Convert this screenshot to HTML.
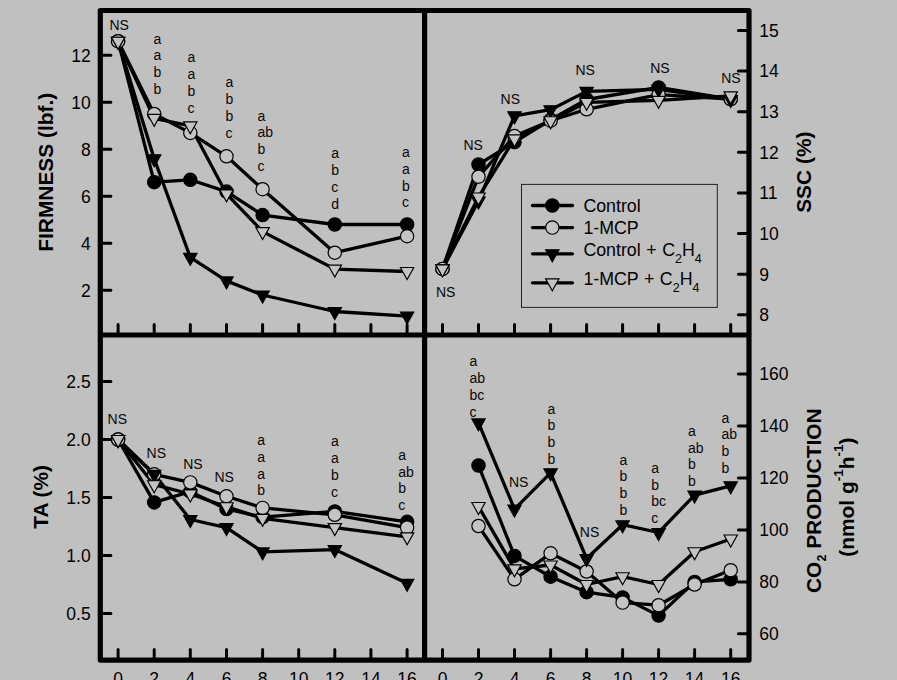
<!DOCTYPE html>
<html><head><meta charset="utf-8"><title>chart</title>
<style>
html,body{margin:0;padding:0;background:#c0c0c0;}
body{width:897px;height:680px;overflow:hidden;}
svg{display:block;}
text{font-family:"Liberation Sans", sans-serif;fill:#000;}
.tk{font-size:17.5px;}
.an{font-size:14px;fill:#0c0606;}
.ti{font-size:20.9px;font-weight:bold;}
.lg{font-size:17.8px;word-spacing:0.6px;}
</style></head><body>
<svg width="897" height="680" viewBox="0 0 897 680">
<rect x="0" y="0" width="897" height="680" fill="#c0c0c0"/>
<g id="pA"><polyline fill="none" stroke="#000" stroke-width="3.3" stroke-linejoin="round" points="118.1,41.2 154.2,182.2 190.3,179.8 226.5,191.6 262.6,215.1 334.8,224.5 407.1,224.5"/>
<polyline fill="none" stroke="#000" stroke-width="3.3" stroke-linejoin="round" points="118.1,41.2 154.2,114.0 190.3,132.9 226.5,156.3 262.6,189.2 334.8,252.7 407.1,236.2"/>
<polyline fill="none" stroke="#000" stroke-width="3.3" stroke-linejoin="round" points="118.1,41.2 154.2,158.7 190.3,257.4 226.5,280.9 262.6,295.0 334.8,311.5 407.1,316.1"/>
<polyline fill="none" stroke="#000" stroke-width="3.3" stroke-linejoin="round" points="118.1,41.2 154.2,118.3 190.3,125.8 226.5,193.9 262.6,231.6 334.8,269.1 407.1,271.5"/>
<circle cx="118.1" cy="41.2" r="6.65" fill="#000" stroke="#000" stroke-width="1.2"/>
<circle cx="154.2" cy="182.2" r="6.65" fill="#000" stroke="#000" stroke-width="1.2"/>
<circle cx="190.3" cy="179.8" r="6.65" fill="#000" stroke="#000" stroke-width="1.2"/>
<circle cx="226.5" cy="191.6" r="6.65" fill="#000" stroke="#000" stroke-width="1.2"/>
<circle cx="262.6" cy="215.1" r="6.65" fill="#000" stroke="#000" stroke-width="1.2"/>
<circle cx="334.8" cy="224.5" r="6.65" fill="#000" stroke="#000" stroke-width="1.2"/>
<circle cx="407.1" cy="224.5" r="6.65" fill="#000" stroke="#000" stroke-width="1.2"/>
<circle cx="118.1" cy="41.2" r="6.65" fill="#c4c4c4" stroke="#000" stroke-width="1.2"/>
<circle cx="154.2" cy="114.0" r="6.65" fill="#c4c4c4" stroke="#000" stroke-width="1.2"/>
<circle cx="190.3" cy="132.9" r="6.65" fill="#c4c4c4" stroke="#000" stroke-width="1.2"/>
<circle cx="226.5" cy="156.3" r="6.65" fill="#c4c4c4" stroke="#000" stroke-width="1.2"/>
<circle cx="262.6" cy="189.2" r="6.65" fill="#c4c4c4" stroke="#000" stroke-width="1.2"/>
<circle cx="334.8" cy="252.7" r="6.65" fill="#c4c4c4" stroke="#000" stroke-width="1.2"/>
<circle cx="407.1" cy="236.2" r="6.65" fill="#c4c4c4" stroke="#000" stroke-width="1.2"/>
<path d="M111.4 37.2H124.8L118.1 49.2Z" fill="#000" stroke="#000" stroke-width="1.15" stroke-linejoin="miter"/>
<path d="M147.5 154.7H160.9L154.2 166.7Z" fill="#000" stroke="#000" stroke-width="1.15" stroke-linejoin="miter"/>
<path d="M183.6 253.4H197.0L190.3 265.4Z" fill="#000" stroke="#000" stroke-width="1.15" stroke-linejoin="miter"/>
<path d="M219.8 276.9H233.2L226.5 288.9Z" fill="#000" stroke="#000" stroke-width="1.15" stroke-linejoin="miter"/>
<path d="M255.9 291.0H269.3L262.6 303.0Z" fill="#000" stroke="#000" stroke-width="1.15" stroke-linejoin="miter"/>
<path d="M328.1 307.5H341.5L334.8 319.5Z" fill="#000" stroke="#000" stroke-width="1.15" stroke-linejoin="miter"/>
<path d="M400.4 312.1H413.8L407.1 324.1Z" fill="#000" stroke="#000" stroke-width="1.15" stroke-linejoin="miter"/>
<path d="M111.4 37.2H124.8L118.1 49.2Z" fill="#c4c4c4" stroke="#000" stroke-width="1.15" stroke-linejoin="miter"/>
<path d="M147.5 114.3H160.9L154.2 126.3Z" fill="#c4c4c4" stroke="#000" stroke-width="1.15" stroke-linejoin="miter"/>
<path d="M183.6 121.8H197.0L190.3 133.8Z" fill="#c4c4c4" stroke="#000" stroke-width="1.15" stroke-linejoin="miter"/>
<path d="M219.8 189.9H233.2L226.5 201.9Z" fill="#c4c4c4" stroke="#000" stroke-width="1.15" stroke-linejoin="miter"/>
<path d="M255.9 227.6H269.3L262.6 239.6Z" fill="#c4c4c4" stroke="#000" stroke-width="1.15" stroke-linejoin="miter"/>
<path d="M328.1 265.1H341.5L334.8 277.1Z" fill="#c4c4c4" stroke="#000" stroke-width="1.15" stroke-linejoin="miter"/>
<path d="M400.4 267.5H413.8L407.1 279.5Z" fill="#c4c4c4" stroke="#000" stroke-width="1.15" stroke-linejoin="miter"/></g>
<g id="pB"><polyline fill="none" stroke="#000" stroke-width="3.3" stroke-linejoin="round" points="442.5,268.9 478.5,164.5 514.5,142.2 550.6,119.8 586.6,99.5 658.6,87.4 730.7,99.1"/>
<polyline fill="none" stroke="#000" stroke-width="3.3" stroke-linejoin="round" points="442.5,268.9 478.5,176.7 514.5,136.1 550.6,120.7 586.6,109.3 658.6,94.7 730.7,99.1"/>
<polyline fill="none" stroke="#000" stroke-width="3.3" stroke-linejoin="round" points="442.5,268.9 478.5,201.1 514.5,115.8 550.6,109.7 586.6,91.4 658.6,89.4 730.7,99.5"/>
<polyline fill="none" stroke="#000" stroke-width="3.3" stroke-linejoin="round" points="442.5,268.9 478.5,197.0 514.5,138.9 550.6,120.7 586.6,102.4 658.6,100.3 730.7,95.9"/>
<circle cx="442.5" cy="268.9" r="6.65" fill="#000" stroke="#000" stroke-width="1.2"/>
<circle cx="478.5" cy="164.5" r="6.65" fill="#000" stroke="#000" stroke-width="1.2"/>
<circle cx="514.5" cy="142.2" r="6.65" fill="#000" stroke="#000" stroke-width="1.2"/>
<circle cx="550.6" cy="119.8" r="6.65" fill="#000" stroke="#000" stroke-width="1.2"/>
<circle cx="586.6" cy="99.5" r="6.65" fill="#000" stroke="#000" stroke-width="1.2"/>
<circle cx="658.6" cy="87.4" r="6.65" fill="#000" stroke="#000" stroke-width="1.2"/>
<circle cx="730.7" cy="99.1" r="6.65" fill="#000" stroke="#000" stroke-width="1.2"/>
<circle cx="442.5" cy="268.9" r="6.65" fill="#c4c4c4" stroke="#000" stroke-width="1.2"/>
<circle cx="478.5" cy="176.7" r="6.65" fill="#c4c4c4" stroke="#000" stroke-width="1.2"/>
<circle cx="514.5" cy="136.1" r="6.65" fill="#c4c4c4" stroke="#000" stroke-width="1.2"/>
<circle cx="550.6" cy="120.7" r="6.65" fill="#c4c4c4" stroke="#000" stroke-width="1.2"/>
<circle cx="586.6" cy="109.3" r="6.65" fill="#c4c4c4" stroke="#000" stroke-width="1.2"/>
<circle cx="658.6" cy="94.7" r="6.65" fill="#c4c4c4" stroke="#000" stroke-width="1.2"/>
<circle cx="730.7" cy="99.1" r="6.65" fill="#c4c4c4" stroke="#000" stroke-width="1.2"/>
<path d="M435.8 264.9H449.2L442.5 276.9Z" fill="#000" stroke="#000" stroke-width="1.15" stroke-linejoin="miter"/>
<path d="M471.8 197.1H485.2L478.5 209.1Z" fill="#000" stroke="#000" stroke-width="1.15" stroke-linejoin="miter"/>
<path d="M507.8 111.8H521.2L514.5 123.8Z" fill="#000" stroke="#000" stroke-width="1.15" stroke-linejoin="miter"/>
<path d="M543.9 105.7H557.3L550.6 117.7Z" fill="#000" stroke="#000" stroke-width="1.15" stroke-linejoin="miter"/>
<path d="M579.9 87.4H593.3L586.6 99.4Z" fill="#000" stroke="#000" stroke-width="1.15" stroke-linejoin="miter"/>
<path d="M651.9 85.4H665.3L658.6 97.4Z" fill="#000" stroke="#000" stroke-width="1.15" stroke-linejoin="miter"/>
<path d="M724.0 95.5H737.4L730.7 107.5Z" fill="#000" stroke="#000" stroke-width="1.15" stroke-linejoin="miter"/>
<path d="M435.8 264.9H449.2L442.5 276.9Z" fill="#c4c4c4" stroke="#000" stroke-width="1.15" stroke-linejoin="miter"/>
<path d="M471.8 193.0H485.2L478.5 205.0Z" fill="#c4c4c4" stroke="#000" stroke-width="1.15" stroke-linejoin="miter"/>
<path d="M507.8 134.9H521.2L514.5 146.9Z" fill="#c4c4c4" stroke="#000" stroke-width="1.15" stroke-linejoin="miter"/>
<path d="M543.9 116.7H557.3L550.6 128.7Z" fill="#c4c4c4" stroke="#000" stroke-width="1.15" stroke-linejoin="miter"/>
<path d="M579.9 98.4H593.3L586.6 110.4Z" fill="#c4c4c4" stroke="#000" stroke-width="1.15" stroke-linejoin="miter"/>
<path d="M651.9 96.3H665.3L658.6 108.3Z" fill="#c4c4c4" stroke="#000" stroke-width="1.15" stroke-linejoin="miter"/>
<path d="M724.0 91.9H737.4L730.7 103.9Z" fill="#c4c4c4" stroke="#000" stroke-width="1.15" stroke-linejoin="miter"/></g>
<g id="pC"><polyline fill="none" stroke="#000" stroke-width="3.3" stroke-linejoin="round" points="118.1,439.5 154.2,502.4 190.3,491.7 226.5,509.0 262.6,517.2 334.8,511.4 407.1,521.8"/>
<polyline fill="none" stroke="#000" stroke-width="3.3" stroke-linejoin="round" points="118.1,439.5 154.2,474.3 190.3,482.4 226.5,496.3 262.6,507.9 334.8,514.8 407.1,527.6"/>
<polyline fill="none" stroke="#000" stroke-width="3.3" stroke-linejoin="round" points="118.1,439.5 154.2,474.3 190.3,519.5 226.5,527.6 262.6,551.9 334.8,549.6 407.1,583.3"/>
<polyline fill="none" stroke="#000" stroke-width="3.3" stroke-linejoin="round" points="118.1,439.5 154.2,484.7 190.3,494.0 226.5,506.7 262.6,518.3 334.8,527.6 407.1,536.9"/>
<circle cx="118.1" cy="439.5" r="6.65" fill="#000" stroke="#000" stroke-width="1.2"/>
<circle cx="154.2" cy="502.4" r="6.65" fill="#000" stroke="#000" stroke-width="1.2"/>
<circle cx="190.3" cy="491.7" r="6.65" fill="#000" stroke="#000" stroke-width="1.2"/>
<circle cx="226.5" cy="509.0" r="6.65" fill="#000" stroke="#000" stroke-width="1.2"/>
<circle cx="262.6" cy="517.2" r="6.65" fill="#000" stroke="#000" stroke-width="1.2"/>
<circle cx="334.8" cy="511.4" r="6.65" fill="#000" stroke="#000" stroke-width="1.2"/>
<circle cx="407.1" cy="521.8" r="6.65" fill="#000" stroke="#000" stroke-width="1.2"/>
<circle cx="118.1" cy="439.5" r="6.65" fill="#c4c4c4" stroke="#000" stroke-width="1.2"/>
<circle cx="154.2" cy="474.3" r="6.65" fill="#c4c4c4" stroke="#000" stroke-width="1.2"/>
<circle cx="190.3" cy="482.4" r="6.65" fill="#c4c4c4" stroke="#000" stroke-width="1.2"/>
<circle cx="226.5" cy="496.3" r="6.65" fill="#c4c4c4" stroke="#000" stroke-width="1.2"/>
<circle cx="262.6" cy="507.9" r="6.65" fill="#c4c4c4" stroke="#000" stroke-width="1.2"/>
<circle cx="334.8" cy="514.8" r="6.65" fill="#c4c4c4" stroke="#000" stroke-width="1.2"/>
<circle cx="407.1" cy="527.6" r="6.65" fill="#c4c4c4" stroke="#000" stroke-width="1.2"/>
<path d="M111.4 435.5H124.8L118.1 447.5Z" fill="#000" stroke="#000" stroke-width="1.15" stroke-linejoin="miter"/>
<path d="M147.5 470.3H160.9L154.2 482.3Z" fill="#000" stroke="#000" stroke-width="1.15" stroke-linejoin="miter"/>
<path d="M183.6 515.5H197.0L190.3 527.5Z" fill="#000" stroke="#000" stroke-width="1.15" stroke-linejoin="miter"/>
<path d="M219.8 523.6H233.2L226.5 535.6Z" fill="#000" stroke="#000" stroke-width="1.15" stroke-linejoin="miter"/>
<path d="M255.9 547.9H269.3L262.6 559.9Z" fill="#000" stroke="#000" stroke-width="1.15" stroke-linejoin="miter"/>
<path d="M328.1 545.6H341.5L334.8 557.6Z" fill="#000" stroke="#000" stroke-width="1.15" stroke-linejoin="miter"/>
<path d="M400.4 579.3H413.8L407.1 591.3Z" fill="#000" stroke="#000" stroke-width="1.15" stroke-linejoin="miter"/>
<path d="M111.4 435.5H124.8L118.1 447.5Z" fill="#c4c4c4" stroke="#000" stroke-width="1.15" stroke-linejoin="miter"/>
<path d="M147.5 480.7H160.9L154.2 492.7Z" fill="#c4c4c4" stroke="#000" stroke-width="1.15" stroke-linejoin="miter"/>
<path d="M183.6 490.0H197.0L190.3 502.0Z" fill="#c4c4c4" stroke="#000" stroke-width="1.15" stroke-linejoin="miter"/>
<path d="M219.8 502.7H233.2L226.5 514.7Z" fill="#c4c4c4" stroke="#000" stroke-width="1.15" stroke-linejoin="miter"/>
<path d="M255.9 514.3H269.3L262.6 526.3Z" fill="#c4c4c4" stroke="#000" stroke-width="1.15" stroke-linejoin="miter"/>
<path d="M328.1 523.6H341.5L334.8 535.6Z" fill="#c4c4c4" stroke="#000" stroke-width="1.15" stroke-linejoin="miter"/>
<path d="M400.4 532.9H413.8L407.1 544.9Z" fill="#c4c4c4" stroke="#000" stroke-width="1.15" stroke-linejoin="miter"/></g>
<g id="pD"><polyline fill="none" stroke="#000" stroke-width="3.3" stroke-linejoin="round" points="478.5,465.5 514.5,555.9 550.6,576.7 586.6,592.2 622.6,597.4 658.6,615.6 694.6,581.9 730.7,579.3"/>
<polyline fill="none" stroke="#000" stroke-width="3.3" stroke-linejoin="round" points="478.5,526.0 514.5,579.3 550.6,553.3 586.6,571.5 622.6,602.6 658.6,605.2 694.6,584.5 730.7,570.2"/>
<polyline fill="none" stroke="#000" stroke-width="3.3" stroke-linejoin="round" points="478.5,422.9 514.5,509.1 550.6,472.8 586.6,558.5 622.6,524.7 658.6,532.5 694.6,495.1 730.7,485.8"/>
<polyline fill="none" stroke="#000" stroke-width="3.3" stroke-linejoin="round" points="478.5,506.5 514.5,568.9 550.6,565.0 586.6,584.5 622.6,576.7 658.6,584.5 694.6,551.7 730.7,539.0"/>
<circle cx="478.5" cy="465.5" r="6.65" fill="#000" stroke="#000" stroke-width="1.2"/>
<circle cx="514.5" cy="555.9" r="6.65" fill="#000" stroke="#000" stroke-width="1.2"/>
<circle cx="550.6" cy="576.7" r="6.65" fill="#000" stroke="#000" stroke-width="1.2"/>
<circle cx="586.6" cy="592.2" r="6.65" fill="#000" stroke="#000" stroke-width="1.2"/>
<circle cx="622.6" cy="597.4" r="6.65" fill="#000" stroke="#000" stroke-width="1.2"/>
<circle cx="658.6" cy="615.6" r="6.65" fill="#000" stroke="#000" stroke-width="1.2"/>
<circle cx="694.6" cy="581.9" r="6.65" fill="#000" stroke="#000" stroke-width="1.2"/>
<circle cx="730.7" cy="579.3" r="6.65" fill="#000" stroke="#000" stroke-width="1.2"/>
<circle cx="478.5" cy="526.0" r="6.65" fill="#c4c4c4" stroke="#000" stroke-width="1.2"/>
<circle cx="514.5" cy="579.3" r="6.65" fill="#c4c4c4" stroke="#000" stroke-width="1.2"/>
<circle cx="550.6" cy="553.3" r="6.65" fill="#c4c4c4" stroke="#000" stroke-width="1.2"/>
<circle cx="586.6" cy="571.5" r="6.65" fill="#c4c4c4" stroke="#000" stroke-width="1.2"/>
<circle cx="622.6" cy="602.6" r="6.65" fill="#c4c4c4" stroke="#000" stroke-width="1.2"/>
<circle cx="658.6" cy="605.2" r="6.65" fill="#c4c4c4" stroke="#000" stroke-width="1.2"/>
<circle cx="694.6" cy="584.5" r="6.65" fill="#c4c4c4" stroke="#000" stroke-width="1.2"/>
<circle cx="730.7" cy="570.2" r="6.65" fill="#c4c4c4" stroke="#000" stroke-width="1.2"/>
<path d="M471.8 418.9H485.2L478.5 430.9Z" fill="#000" stroke="#000" stroke-width="1.15" stroke-linejoin="miter"/>
<path d="M507.8 505.1H521.2L514.5 517.1Z" fill="#000" stroke="#000" stroke-width="1.15" stroke-linejoin="miter"/>
<path d="M543.9 468.8H557.3L550.6 480.8Z" fill="#000" stroke="#000" stroke-width="1.15" stroke-linejoin="miter"/>
<path d="M579.9 554.5H593.3L586.6 566.5Z" fill="#000" stroke="#000" stroke-width="1.15" stroke-linejoin="miter"/>
<path d="M615.9 520.7H629.3L622.6 532.7Z" fill="#000" stroke="#000" stroke-width="1.15" stroke-linejoin="miter"/>
<path d="M651.9 528.5H665.3L658.6 540.5Z" fill="#000" stroke="#000" stroke-width="1.15" stroke-linejoin="miter"/>
<path d="M687.9 491.1H701.3L694.6 503.1Z" fill="#000" stroke="#000" stroke-width="1.15" stroke-linejoin="miter"/>
<path d="M724.0 481.8H737.4L730.7 493.8Z" fill="#000" stroke="#000" stroke-width="1.15" stroke-linejoin="miter"/>
<path d="M471.8 502.5H485.2L478.5 514.5Z" fill="#c4c4c4" stroke="#000" stroke-width="1.15" stroke-linejoin="miter"/>
<path d="M507.8 564.9H521.2L514.5 576.9Z" fill="#c4c4c4" stroke="#000" stroke-width="1.15" stroke-linejoin="miter"/>
<path d="M543.9 561.0H557.3L550.6 573.0Z" fill="#c4c4c4" stroke="#000" stroke-width="1.15" stroke-linejoin="miter"/>
<path d="M579.9 580.5H593.3L586.6 592.5Z" fill="#c4c4c4" stroke="#000" stroke-width="1.15" stroke-linejoin="miter"/>
<path d="M615.9 572.7H629.3L622.6 584.7Z" fill="#c4c4c4" stroke="#000" stroke-width="1.15" stroke-linejoin="miter"/>
<path d="M651.9 580.5H665.3L658.6 592.5Z" fill="#c4c4c4" stroke="#000" stroke-width="1.15" stroke-linejoin="miter"/>
<path d="M687.9 547.7H701.3L694.6 559.7Z" fill="#c4c4c4" stroke="#000" stroke-width="1.15" stroke-linejoin="miter"/>
<path d="M724.0 535.0H737.4L730.7 547.0Z" fill="#c4c4c4" stroke="#000" stroke-width="1.15" stroke-linejoin="miter"/></g>
<g fill="none" stroke="#000" stroke-width="5.2" stroke-linejoin="round">
<rect x="100.3" y="10.5" width="648.7" height="649.6"/>
<path d="M424.6 10.5V660.1M100.3 335.0H749.0"/>
</g>
<path d="M101.89999999999999 290.3h9.0M101.89999999999999 243.3h9.0M101.89999999999999 196.3h9.0M101.89999999999999 149.3h9.0M101.89999999999999 102.3h9.0M101.89999999999999 55.3h9.0M101.89999999999999 613.4h9.0M101.89999999999999 555.4h9.0M101.89999999999999 497.4h9.0M101.89999999999999 439.5h9.0M101.89999999999999 381.5h9.0M747.4 314.8h-9.0M747.4 274.2h-9.0M747.4 233.6h-9.0M747.4 192.9h-9.0M747.4 152.3h-9.0M747.4 111.7h-9.0M747.4 71.1h-9.0M747.4 30.5h-9.0M747.4 633.8h-9.0M747.4 581.9h-9.0M747.4 529.9h-9.0M747.4 478.0h-9.0M747.4 426.0h-9.0M747.4 374.1h-9.0M118.1 333.4v-9.0M442.5 333.4v-9.0M118.1 658.5v-9.0M442.5 658.5v-9.0M154.2 333.4v-9.0M478.5 333.4v-9.0M154.2 658.5v-9.0M478.5 658.5v-9.0M190.3 333.4v-9.0M514.5 333.4v-9.0M190.3 658.5v-9.0M514.5 658.5v-9.0M226.5 333.4v-9.0M550.6 333.4v-9.0M226.5 658.5v-9.0M550.6 658.5v-9.0M262.6 333.4v-9.0M586.6 333.4v-9.0M262.6 658.5v-9.0M586.6 658.5v-9.0M298.7 333.4v-9.0M622.6 333.4v-9.0M298.7 658.5v-9.0M622.6 658.5v-9.0M334.8 333.4v-9.0M658.6 333.4v-9.0M334.8 658.5v-9.0M658.6 658.5v-9.0M370.9 333.4v-9.0M694.6 333.4v-9.0M370.9 658.5v-9.0M694.6 658.5v-9.0M407.1 333.4v-9.0M730.7 333.4v-9.0M407.1 658.5v-9.0M730.7 658.5v-9.0" fill="none" stroke="#000" stroke-width="3.0" stroke-linecap="round"/>
<text class="tk" x="90.7" y="296.6" text-anchor="end">2</text>
<text class="tk" x="90.7" y="249.6" text-anchor="end">4</text>
<text class="tk" x="90.7" y="202.6" text-anchor="end">6</text>
<text class="tk" x="90.7" y="155.6" text-anchor="end">8</text>
<text class="tk" x="90.7" y="108.6" text-anchor="end">10</text>
<text class="tk" x="90.7" y="61.6" text-anchor="end">12</text>
<text class="tk" x="90.7" y="619.7" text-anchor="end">0.5</text>
<text class="tk" x="90.7" y="561.7" text-anchor="end">1.0</text>
<text class="tk" x="90.7" y="503.8" text-anchor="end">1.5</text>
<text class="tk" x="90.7" y="445.8" text-anchor="end">2.0</text>
<text class="tk" x="90.7" y="387.8" text-anchor="end">2.5</text>
<text class="tk" x="759.3" y="321.1">8</text>
<text class="tk" x="759.3" y="280.5">9</text>
<text class="tk" x="759.3" y="239.9">10</text>
<text class="tk" x="759.3" y="199.2">11</text>
<text class="tk" x="759.3" y="158.6">12</text>
<text class="tk" x="759.3" y="118.0">13</text>
<text class="tk" x="759.3" y="77.4">14</text>
<text class="tk" x="759.3" y="36.8">15</text>
<text class="tk" x="759.3" y="640.1">60</text>
<text class="tk" x="759.3" y="588.2">80</text>
<text class="tk" x="759.3" y="536.2">100</text>
<text class="tk" x="759.3" y="484.3">120</text>
<text class="tk" x="759.3" y="432.3">140</text>
<text class="tk" x="759.3" y="380.4">160</text>
<text class="tk" x="118.1" y="684.6" text-anchor="middle">0</text>
<text class="tk" x="442.5" y="684.6" text-anchor="middle">0</text>
<text class="tk" x="154.2" y="684.6" text-anchor="middle">2</text>
<text class="tk" x="478.5" y="684.6" text-anchor="middle">2</text>
<text class="tk" x="190.3" y="684.6" text-anchor="middle">4</text>
<text class="tk" x="514.5" y="684.6" text-anchor="middle">4</text>
<text class="tk" x="226.5" y="684.6" text-anchor="middle">6</text>
<text class="tk" x="550.6" y="684.6" text-anchor="middle">6</text>
<text class="tk" x="262.6" y="684.6" text-anchor="middle">8</text>
<text class="tk" x="586.6" y="684.6" text-anchor="middle">8</text>
<text class="tk" x="298.7" y="684.6" text-anchor="middle">10</text>
<text class="tk" x="622.6" y="684.6" text-anchor="middle">10</text>
<text class="tk" x="334.8" y="684.6" text-anchor="middle">12</text>
<text class="tk" x="658.6" y="684.6" text-anchor="middle">12</text>
<text class="tk" x="370.9" y="684.6" text-anchor="middle">14</text>
<text class="tk" x="694.6" y="684.6" text-anchor="middle">14</text>
<text class="tk" x="407.1" y="684.6" text-anchor="middle">16</text>
<text class="tk" x="730.7" y="684.6" text-anchor="middle">16</text>
<text class="ti" transform="translate(52.8 172.2) rotate(-90)" text-anchor="middle">FIRMNESS (lbf.)</text>
<text class="ti" transform="translate(47.8 496.9) rotate(-90)" text-anchor="middle">TA (%)</text>
<text class="ti" transform="translate(810.7 172.2) rotate(-90)" text-anchor="middle">SSC (%)</text>
<text class="ti" transform="translate(821.2 500.7) rotate(-90)" text-anchor="middle">CO<tspan font-size="12.5" dy="5">2</tspan><tspan dy="-5"> PRODUCTION</tspan></text>
<text class="ti" transform="translate(853.8 497.1) rotate(-90)" text-anchor="middle">(nmol g<tspan font-size="13.5" dy="-11">-1</tspan><tspan dy="11">h</tspan><tspan font-size="13.5" dy="-11">-1</tspan><tspan dy="11">)</tspan></text>
<rect x="521.5" y="184.4" width="195.8" height="123" fill="#c0c0c0" stroke="#222" stroke-width="1"/>
<path d="M532.5 205.5H572.5" stroke="#000" stroke-width="3.3" stroke-linecap="round"/>
<circle cx="552.3" cy="205.5" r="6.65" fill="#000" stroke="#000" stroke-width="1.2"/>
<text class="lg" x="583.4" y="211.5">Control</text>
<path d="M532.5 227.6H572.5" stroke="#000" stroke-width="3.3" stroke-linecap="round"/>
<circle cx="552.3" cy="227.6" r="6.65" fill="#c4c4c4" stroke="#000" stroke-width="1.2"/>
<text class="lg" x="583.4" y="233.6">1-MCP</text>
<path d="M532.5 253.8H572.5" stroke="#000" stroke-width="3.3" stroke-linecap="round"/>
<path d="M545.6 249.8H559.0L552.3 261.8Z" fill="#000" stroke="#000" stroke-width="1.15" stroke-linejoin="miter"/>
<text class="lg" x="583.4" y="256.1">Control + C<tspan font-size="12.5" dy="6.5">2</tspan><tspan dy="-6.5">H</tspan><tspan font-size="12.5" dy="6.5">4</tspan></text>
<path d="M532.5 282.8H572.5" stroke="#000" stroke-width="3.3" stroke-linecap="round"/>
<path d="M545.6 278.8H559.0L552.3 290.8Z" fill="#c4c4c4" stroke="#000" stroke-width="1.15" stroke-linejoin="miter"/>
<text class="lg" x="583.4" y="285.3">1-MCP + C<tspan font-size="12.5" dy="6.5">2</tspan><tspan dy="-6.5">H</tspan><tspan font-size="12.5" dy="6.5">4</tspan></text>
<text class="an" x="109.4" y="29.9">NS</text>
<text class="an" x="153.4" y="43.5" text-anchor="start">a</text>
<text class="an" x="153.4" y="60.2" text-anchor="start">a</text>
<text class="an" x="153.4" y="76.9" text-anchor="start">b</text>
<text class="an" x="153.4" y="93.6" text-anchor="start">b</text>
<text class="an" x="187.6" y="61.5" text-anchor="start">a</text>
<text class="an" x="187.6" y="78.6" text-anchor="start">a</text>
<text class="an" x="187.6" y="95.7" text-anchor="start">b</text>
<text class="an" x="187.6" y="112.8" text-anchor="start">c</text>
<text class="an" x="225.6" y="87.2" text-anchor="start">a</text>
<text class="an" x="225.6" y="104.2" text-anchor="start">b</text>
<text class="an" x="225.6" y="121.2" text-anchor="start">b</text>
<text class="an" x="225.6" y="138.2" text-anchor="start">c</text>
<text class="an" x="257.4" y="120.6" text-anchor="start">a</text>
<text class="an" x="257.4" y="137.3" text-anchor="start">ab</text>
<text class="an" x="257.4" y="154.0" text-anchor="start">b</text>
<text class="an" x="257.4" y="170.7" text-anchor="start">c</text>
<text class="an" x="331.3" y="158.3" text-anchor="start">a</text>
<text class="an" x="331.3" y="175.2" text-anchor="start">b</text>
<text class="an" x="331.3" y="192.2" text-anchor="start">c</text>
<text class="an" x="331.3" y="209.2" text-anchor="start">d</text>
<text class="an" x="402.1" y="157.2" text-anchor="start">a</text>
<text class="an" x="402.1" y="173.9" text-anchor="start">a</text>
<text class="an" x="402.1" y="190.6" text-anchor="start">b</text>
<text class="an" x="402.1" y="207.3" text-anchor="start">c</text>
<text class="an" x="436.0" y="296.6">NS</text>
<text class="an" x="463.4" y="149.8">NS</text>
<text class="an" x="500.6" y="104.2">NS</text>
<text class="an" x="575.4" y="75.0">NS</text>
<text class="an" x="650.2" y="72.6">NS</text>
<text class="an" x="721.2" y="82.8">NS</text>
<text class="an" x="107.6" y="424.4">NS</text>
<text class="an" x="146.6" y="458.4">NS</text>
<text class="an" x="183.2" y="468.6">NS</text>
<text class="an" x="214.4" y="482.4">NS</text>
<text class="an" x="257.2" y="445.3" text-anchor="start">a</text>
<text class="an" x="257.2" y="462.0" text-anchor="start">a</text>
<text class="an" x="257.2" y="478.7" text-anchor="start">a</text>
<text class="an" x="257.2" y="495.4" text-anchor="start">b</text>
<text class="an" x="331.0" y="446.4" text-anchor="start">a</text>
<text class="an" x="331.0" y="463.1" text-anchor="start">a</text>
<text class="an" x="331.0" y="479.8" text-anchor="start">b</text>
<text class="an" x="331.0" y="496.5" text-anchor="start">c</text>
<text class="an" x="398.2" y="459.8" text-anchor="start">a</text>
<text class="an" x="398.2" y="476.5" text-anchor="start">ab</text>
<text class="an" x="398.2" y="493.2" text-anchor="start">b</text>
<text class="an" x="398.2" y="509.9" text-anchor="start">c</text>
<text class="an" x="469.4" y="366.4" text-anchor="start">a</text>
<text class="an" x="469.4" y="383.1" text-anchor="start">ab</text>
<text class="an" x="469.4" y="399.8" text-anchor="start">bc</text>
<text class="an" x="469.4" y="416.5" text-anchor="start">c</text>
<text class="an" x="509.0" y="487.0">NS</text>
<text class="an" x="547.4" y="413.6" text-anchor="start">a</text>
<text class="an" x="547.4" y="430.3" text-anchor="start">b</text>
<text class="an" x="547.4" y="447.0" text-anchor="start">b</text>
<text class="an" x="547.4" y="463.7" text-anchor="start">b</text>
<text class="an" x="579.8" y="536.6">NS</text>
<text class="an" x="619.4" y="464.6" text-anchor="start">a</text>
<text class="an" x="619.4" y="481.3" text-anchor="start">b</text>
<text class="an" x="619.4" y="498.0" text-anchor="start">b</text>
<text class="an" x="619.4" y="514.7" text-anchor="start">b</text>
<text class="an" x="651.3" y="472.8" text-anchor="start">a</text>
<text class="an" x="651.3" y="489.5" text-anchor="start">b</text>
<text class="an" x="651.3" y="506.2" text-anchor="start">bc</text>
<text class="an" x="651.3" y="522.9" text-anchor="start">c</text>
<text class="an" x="688.0" y="435.8" text-anchor="start">a</text>
<text class="an" x="688.0" y="452.5" text-anchor="start">ab</text>
<text class="an" x="688.0" y="469.2" text-anchor="start">b</text>
<text class="an" x="688.0" y="485.9" text-anchor="start">b</text>
<text class="an" x="721.4" y="422.6" text-anchor="start">a</text>
<text class="an" x="721.4" y="439.3" text-anchor="start">ab</text>
<text class="an" x="721.4" y="456.0" text-anchor="start">b</text>
<text class="an" x="721.4" y="472.7" text-anchor="start">b</text>
</svg></body></html>
